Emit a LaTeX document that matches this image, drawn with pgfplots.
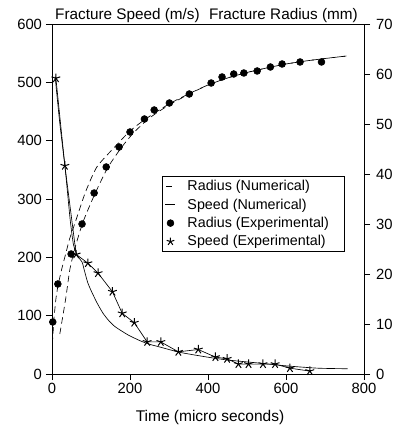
\documentclass[border=0pt]{standalone}
\usepackage{fontspec}
\setmainfont{Liberation Sans}
\usepackage{pgfplots}
\pgfplotsset{compat=1.18}
\pgfplotsset{base/.style={
  scale only axis, width=312pt, height=350pt,
  xmin=0, xmax=800,
  /pgf/number format/assume math mode=true,
  font=\fontsize{14.8}{17}\selectfont,
  tick align=outside, major tick length=6pt,
  tick style={black, line width=0.7pt},
  axis line style={line width=0.8pt},
  every axis plot/.append style={black, line width=0.65pt},
  clip=false,
},
 leg dash/.style={legend image code/.code={\path[draw=none] (0pt,0pt) -- (22pt,0pt); \draw[##1] (3pt,0pt) -- (9pt,0pt);}},
 leg line/.style={legend image code/.code={\path[draw=none] (0pt,0pt) -- (22pt,0pt); \draw[##1] (2pt,0pt) -- (12pt,0pt);}},
 leg mark/.style={legend image code/.code={\path[draw=none] (0pt,0pt) -- (22pt,0pt); \draw[##1] plot coordinates {(7pt,0pt)};}},
}
\begin{document}
\begin{tikzpicture}
\begin{axis}[base,
  ymin=0, ymax=600, ytick={0,100,...,600},
  xtick={0,200,...,800}, xtick pos=bottom, ytick pos=left,
  yticklabel style={xshift=-0.5pt},
]
\coordinate (LL) at (rel axis cs:0,0);
% Speed numerical
\addplot[solid, smooth, tension=0.4] coordinates {
(8,510)(20,430)(33,357)(40,310)(47,262)(55,222)(65,203)(77,192)(84,175)(92,156)(103,139)(117,120)(131,104)(145,92)(162,81)(195,67)(226,57)(250,51)(278,46)(329,37)(398,29)(450,24)(527,19)(600,14)(681,10)(758,9)};
% Speed experimental
\addplot[solid, mark=star, mark size=4.6pt, mark options={solid, line width=1pt}] coordinates {
(10,507)(33,357)(62,205)(92,190)(118,173)(155,141)(180,104)(211,88)(244,55)(279,55)(324,38)(375,42)(419,29)(449,26)(478,17)(504,17)(541,17)(572,17)(610,10)(661,5)};
\node[anchor=base west, font=\fontsize{15.3}{18}\selectfont, inner sep=0pt] at ([shift={(3pt,5pt)}]rel axis cs:0,1) {Fracture Speed (m/s)};
\node[anchor=base east, font=\fontsize{15.3}{18}\selectfont, inner sep=0pt] at ([shift={(-6pt,5pt)}]rel axis cs:1,1) {Fracture Radius (mm)};
\node[anchor=base, font=\fontsize{15.5}{18}\selectfont, inner sep=0pt] at ([shift={(2pt,-47pt)}]rel axis cs:0.5,0) {Time (micro seconds)};
\end{axis}
\begin{axis}[base,
  ymin=0, ymax=70, ytick={0,10,...,70},
  xtick=\empty, ytick pos=right, yticklabel pos=right,
  yticklabel style={xshift=2.5pt},
  legend cell align=left,
  legend style={at={(0.353,0.566)}, anchor=north west, draw=black, line width=0.7pt,
    font=\fontsize{14.3}{16}\selectfont, row sep=2.6pt, inner xsep=1pt, inner ysep=2pt},
]
% Radius numerical (two dashed curves)
\addplot[dash pattern=on 6.5pt off 4pt, smooth, tension=0.4, leg dash] coordinates {
(1,6)(5,11)(10,15)(15,17.5)(25,21)(35,24)(45,27)(59,30.2)(85,36.2)(115,41.4)(162,45.5)(200,48.6)(240,51)(300,54)(350,56)(400,57.8)(450,59.2)(500,60.3)(550,61.2)(600,62)(650,62.6)(700,63.1)(755,63.6)};
\addlegendentry{Radius (Numerical)}
\addlegendimage{solid, leg line}
\addlegendentry{Speed (Numerical)}
\addplot[only marks, mark=*, mark size=3.4pt, leg mark] coordinates {
(2,10.4)(15,18)(49,24)(77,30)(108,36.2)(139,41.4)(172,45.4)(200,48.4)(237,51)(262,52.8)(301,54.2)(352,56)(408,58.2)(436,59.4)(466,60)(492,60.2)(526,60.6)(560,61.4)(590,62)(636,62.4)(691,62.4)};
\addlegendentry{Radius (Experimental)\hspace*{12pt}}
\addlegendimage{only marks, mark=star, mark size=4pt, mark options={line width=1pt}, leg mark}
\addlegendentry{Speed (Experimental)}
\addplot[dash pattern=on 6.5pt off 4pt, smooth, tension=0.4, forget plot] coordinates {
(20,8)(35,15)(46,21)(60,25.5)(80,30.5)(111,36.2)(144,41.4)(180,45.5)(210,48.3)(250,51.2)(300,53.8)(350,55.9)(400,57.8)(450,59.2)(500,60.3)(550,61.2)(600,62)(650,62.6)(700,63.1)(755,63.6)};
\end{axis}
\path (LL) ++(-52pt,-52pt) rectangle ++(393pt,426pt);
\end{tikzpicture}
\end{document}
